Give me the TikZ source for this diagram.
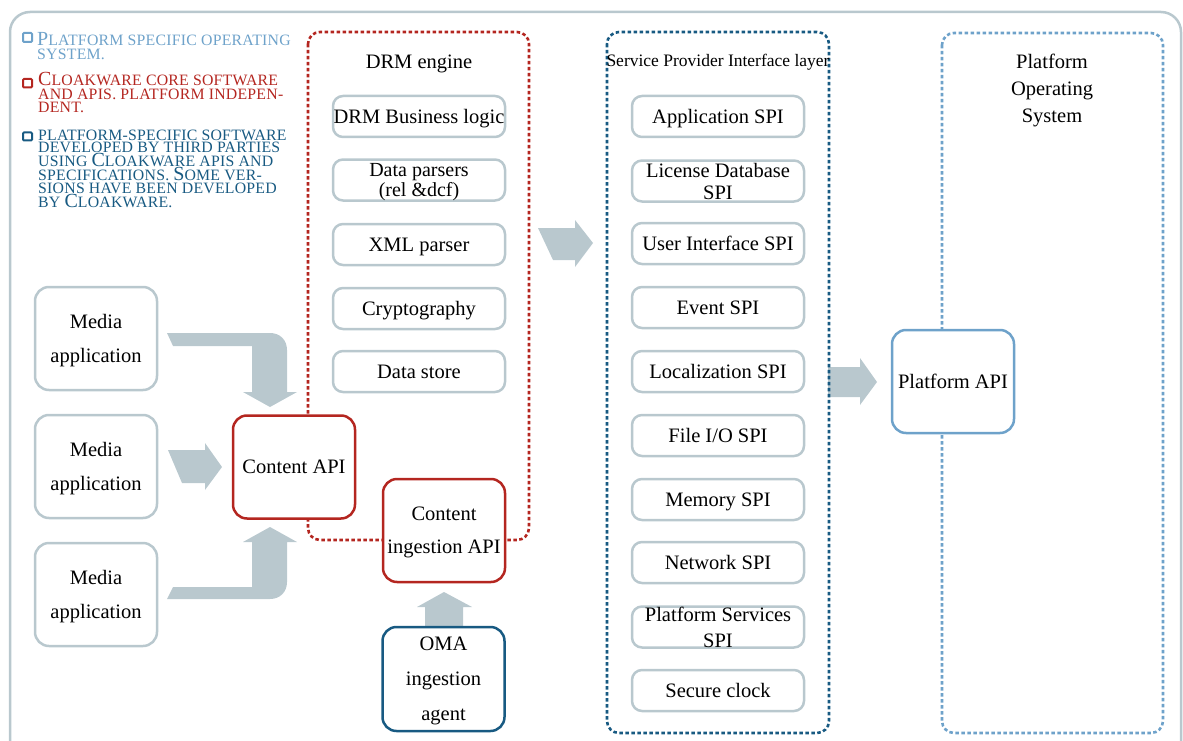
\documentclass[tikz,border=0pt]{standalone}
\usepackage{fontspec}
\setmainfont{Liberation Serif}
\newfontfamily\scfont[LetterSpace=1.5]{Liberation Serif}
\usetikzlibrary{calc}
\definecolor{frame}{RGB}{185,200,206}
\definecolor{cwred}{RGB}{180,38,32}
\definecolor{dblue}{RGB}{24,90,130}
\definecolor{lblue}{RGB}{110,162,202}
\newcommand\Bg[1]{{\fontsize{20}{19}\selectfont #1}}
\begin{document}
\begin{tikzpicture}[x=1pt,y=-1pt,
  box/.style={draw=frame, line width=2.5pt, rounded corners=10pt, fill=white,
    minimum width=172pt, minimum height=41pt, inner sep=0pt, align=center,
    text depth=0pt, font=\fontsize{20.5}{22}\selectfont},
  bigbox/.style={draw=#1, line width=2.5pt, rounded corners=14pt, fill=white,
    minimum width=122pt, minimum height=103pt, inner sep=0pt, align=center,
    text depth=0pt, font=\fontsize{20.5}{34}\selectfont},
  region/.style={draw=#1, line width=2.6pt, dash pattern=on 3.5pt off 2.5pt, rounded corners=12pt},
  blk/.style={fill=frame, draw=none},
  lbl/.style={inner sep=0pt, align=center, text depth=0pt, font=\fontsize{20.5}{27}\selectfont},
  leg/.style={inner sep=0pt, anchor=base west, text=#1, font=\scfont\fontsize{15.8}{15}\selectfont},
  legsq/.style={draw=#1, line width=2pt, fill=white, rounded corners=1pt}
]
\useasboundingbox (0,0) rectangle (1183,741);
\begin{scope}
\clip (0,0) rectangle (1183,741);
\draw[frame, line width=2.5pt, rounded corners=20pt] (10,12) rectangle (1181,770);
\end{scope}

% legend
\draw[legsq=lblue] (23,33) rectangle (32,42);
\draw[legsq=cwred] (23,79) rectangle (32,87.5);
\draw[legsq=dblue] (23,132.5) rectangle (32,140.5);
\node[leg=lblue] (l1a) at (37,45.7) {\Bg{P}LATFORM SPECIFIC OPERATING};
\node[leg=lblue] (l1b) at (37,60) {SYSTEM.};
\node[leg=cwred] (l2a) at (38,86) {\Bg{C}LOAKWARE CORE SOFTWARE};
\node[leg=cwred] (l2b) at (38,100) {AND APIS. PLATFORM INDEPEN-};
\node[leg=cwred] (l2c) at (38,112.5) {DENT.};
\node[leg=dblue] (l3a) at (38,140) {PLATFORM-SPECIFIC SOFTWARE};
\node[leg=dblue] (l3b) at (38,153) {DEVELOPED BY THIRD PARTIES};
\node[leg=dblue] (l3c) at (38,166.5) {USING \Bg{C}LOAKWARE APIS AND};
\node[leg=dblue] (l3d) at (38,180) {SPECIFICATIONS. \Bg{S}OME VER-};
\node[leg=dblue] (l3e) at (38,193.5) {SIONS HAVE BEEN DEVELOPED};
\node[leg=dblue] (l3f) at (38,207) {BY \Bg{C}LOAKWARE.};

% block arrows
\fill[blk] (167,333) -- (270,333) .. controls (280,333) and (287,340) .. (287,350)
  -- (287,392) -- (297,392) -- (270,407) -- (243,392) -- (252,392) -- (252,346) -- (173,346) -- cycle;
\fill[blk] (168,450) -- (205,450) -- (205,443) -- (222,467) -- (205,490) -- (205,483) -- (182,483) -- cycle;
\fill[blk] (167,599) -- (270,599) .. controls (280,599) and (287,592) .. (287,582)
  -- (287,542) -- (297,542) -- (270,527) -- (243,542) -- (252,542) -- (252,587) -- (173,587) -- cycle;
\fill[blk] (538,228) -- (575,228) -- (575,220) -- (593,243) -- (575,267) -- (575,260) -- (553,260) -- cycle;
\fill[blk] (828,367) -- (860,367) -- (860,358) -- (877,382) -- (860,405) -- (860,397) -- (828,397) -- cycle;
\fill[blk] (425,628) -- (425,607) -- (417,607) -- (444,592) -- (472,607) -- (463,607) -- (463,628) -- cycle;

% regions
\draw[region=cwred] (308,32) rectangle (529,540);
\draw[region=dblue] (607,32) rectangle (829,733);
\draw[region=lblue] (942,33) rectangle (1163,733);

\node[lbl] (drmt) at (419,62) {DRM engine};
\node[lbl, font=\fontsize{17.5}{20}\selectfont] (spit) at (718,60) {Service Provider Interface layer};
\node[lbl] (post) at (1052,88) {Platform\\Operating\\System};

% DRM engine boxes
\node[box] (d1) at (419,116.5) {DRM Business logic};
\node[box, font=\fontsize{20}{18}\selectfont] (d2) at (419,180) {Data parsers\\(rel \&dcf)};
\node[box] (d3) at (419,244.5) {XML parser};
\node[box] (d4) at (419,308.5) {Cryptography};
\node[box] (d5) at (419,371.5) {Data store};

% SPI boxes
\node[box] (s1) at (718,116.5) {Application SPI};
\node[box, font=\fontsize{20.5}{22}\selectfont] (s2) at (718,181) {License Database\\SPI};
\node[box] (s3) at (718,243.5) {User Interface SPI};
\node[box] (s4) at (718,307.5) {Event SPI};
\node[box] (s5) at (718,371.5) {Localization SPI};
\node[box] (s6) at (718,435.5) {File I/O SPI};
\node[box] (s7) at (718,499.5) {Memory SPI};
\node[box] (s8) at (718,562.5) {Network SPI};
\node[box, font=\fontsize{20.5}{26}\selectfont] (s9) at (718,627) {Platform Services\\SPI};
\node[box] (s10) at (718,690.5) {Secure clock};

% big boxes
\node[bigbox=frame] (m1) at (96,338.5) {Media\\application};
\node[bigbox=frame] (m2) at (96,466.5) {Media\\application};
\node[bigbox=frame] (m3) at (96,594.5) {Media\\application};
\node[bigbox=cwred] (capi) at (294,467) {Content API};
\node[bigbox=cwred, font=\fontsize{20.5}{33}\selectfont] (ciapi) at (444,530.5) {Content\\ingestion API};
\node[bigbox=dblue, minimum height=104pt, font=\fontsize{20.5}{35}\selectfont] (oma) at (443.5,679) {OMA\\ingestion\\agent};
\node[bigbox=lblue] (papi) at (953,381.5) {Platform API};
\end{tikzpicture}
\end{document}
